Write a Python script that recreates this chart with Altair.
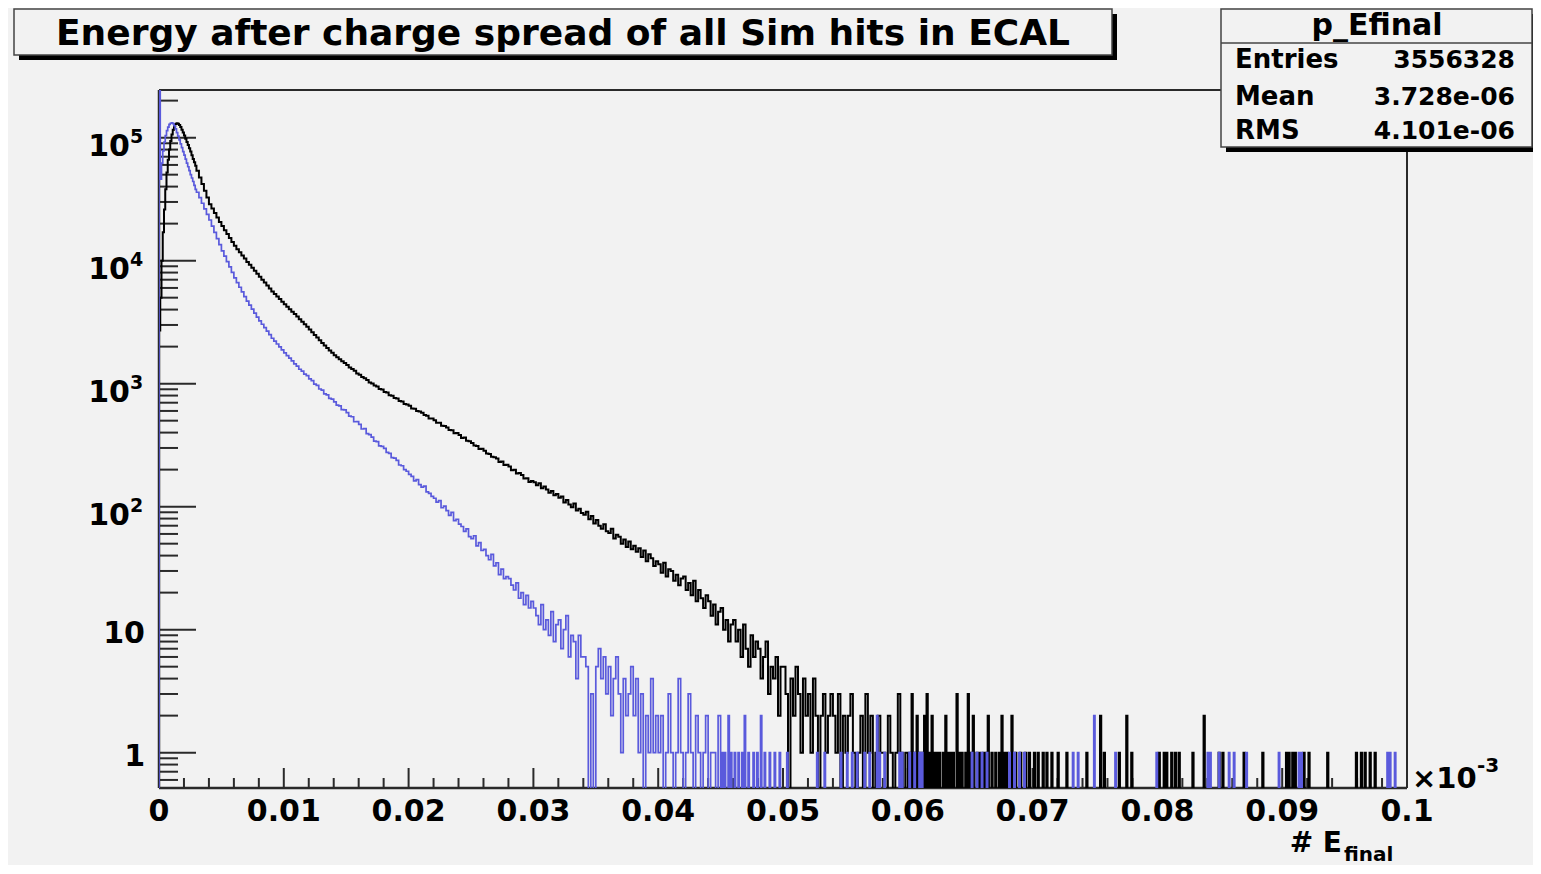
import altair as alt
import pandas as pd

# ---------------- text ----------------
TITLE = "Energy after charge spread of all Sim hits in ECAL"
STAT_NAME = "p_Efinal"
STAT_LABELS = ["Entries", "Mean", "RMS"]
STAT_VALUES = ["3556328", "3.728e-06", "4.101e-06"]
X_TITLE_MAIN = "# E"
X_TITLE_SUB = "final"
X_MULT_MAIN = "\u00d710"
X_MULT_EXP = "-3"

# ---------------- axes ----------------
X_DOMAIN = [0.0, 0.1]
Y_DOMAIN = [0.516, 2.44e5]
ZERO_LEVEL = 0.1  # empty bins fall to the bottom of the frame (clipped)

x_major = [0.0, 0.01, 0.02, 0.03, 0.04, 0.05, 0.06, 0.07, 0.08, 0.09, 0.1]
x_major_labels = ["0", "0.01", "0.02", "0.03", "0.04", "0.05", "0.06", "0.07", "0.08", "0.09", "0.1"]
x_minor = [round(k * 0.002, 4) for k in range(1, 50) if k % 5]

y_major = [1, 10, 100, 1000, 10000, 100000]
y_major_base = ["1", "10", "10", "10", "10", "10"]
y_major_exp = ["", "", "2", "3", "4", "5"]
y_minor = [m * 10.0 ** e for e in range(-1, 6) for m in range(2, 10)
           if Y_DOMAIN[0] <= m * 10.0 ** e <= Y_DOMAIN[1]]

# ---------------- black histogram ----------------
black_head = [2700, 5000, 10000, 17000, 26000, 38000, 52000, 66000, 80000, 94000,
              106000, 116000, 124000, 129000, 131000, 130000, 127000, 122000, 116000, 110000,
              104000, 98000, 92000, 87000, 82000, 77000, 72000, 67000, 63000, 59000]  # 0.0001 bins from 0
black_mid = [53700, 47400, 41900, 37000, 32600,
             28800, 26500, 24400, 22400, 20600,
             19100, 17700, 16500, 15300, 14200,
             13200, 12400, 11700, 11000, 10400,
             9770, 9240, 8740, 8270, 7820,
             7410, 7010, 6630, 6270, 5930,
             5620, 5360, 5110, 4870, 4640,
             4420, 4220, 4030, 3850, 3680,
             3510, 3340, 3190, 3040, 2900,
             2750, 2620, 2490, 2370, 2250,
             2140, 2040, 1950, 1860, 1780,
             1700, 1640, 1580, 1520, 1470,
             1420, 1350, 1315, 1275, 1210,
             1180, 1130, 1105, 1070, 1020,
             1005, 965, 948, 905, 895,
             855, 846, 806, 798, 765,
             757, 722, 716, 683, 676,
             660, 628, 625, 598, 594,
             580, 555, 548, 522, 520,
             505, 482, 480, 455, 452,
             441, 420, 418, 395, 397,
             383, 362, 365, 343, 340,
             330, 314, 311, 294, 296,
             285, 270, 268, 255, 252,
             246, 231, 233, 218, 219,
             212, 198, 200, 186, 188,
             181, 169, 170, 159, 162]  # 0.0002 bins from 0.003
black_noisy = [158, 149, 155, 141, 146, 138, 130, 134, 124, 127,
               118, 121, 108, 113, 104, 99, 106, 93, 96, 89,
               86, 91, 79, 84, 73, 78, 70, 66, 72, 63,
               61, 66, 55, 59, 57, 50, 54, 47, 52, 45,
               48, 43, 46, 39, 44, 36, 41, 38, 33, 36,
               34, 29, 35, 27, 31, 30, 25, 28, 23, 26,
               27, 21, 24, 19, 25, 17, 21, 18, 15, 19,
               17, 13, 16, 11, 14, 15, 10, 12, 8, 11,
               12, 8, 10, 6, 11, 7, 5, 9, 6, 8,
               7, 4, 6, 8, 3, 5, 4, 6, 2, 5,
               5, 3, 0, 4, 2, 5, 3, 1, 4, 2,
               3, 1, 4, 2, 0, 2, 3, 1, 2, 3,
               2, 1, 3, 0, 2, 1, 2, 3, 1, 0,
               1, 2, 0, 3, 1, 2, 0, 1, 2, 1,
               1, 0, 2, 1, 0, 1, 3, 1, 0, 1]  # 0.0002 bins from 0.030
black_tail_x = [0.0601, 0.0603, 0.0605, 0.0607, 0.0609, 0.0611, 0.0613, 0.0615, 0.0617, 0.0619,
                0.0621, 0.0623, 0.0625, 0.0628, 0.0630, 0.0632, 0.0634, 0.0636, 0.0639, 0.0641,
                0.0643, 0.0646, 0.0648, 0.0650, 0.0652, 0.0655, 0.0657, 0.0660, 0.0662, 0.0664,
                0.0667, 0.0670, 0.0673, 0.0675, 0.0677, 0.0679, 0.0683, 0.0686, 0.0690, 0.0694,
                0.0697, 0.0701, 0.0704, 0.0708, 0.0711, 0.0715, 0.0720, 0.0727, 0.0743, 0.0754,
                0.0757, 0.0769, 0.0775, 0.0779, 0.0801, 0.0805, 0.0807, 0.0811, 0.0814, 0.0817,
                0.0828, 0.0837, 0.0849, 0.0852, 0.0869, 0.0884, 0.0903, 0.0905, 0.0908, 0.0910,
                0.0917, 0.0921, 0.0936, 0.0959, 0.0963, 0.0966, 0.0970, 0.0974]
black_tail_n = [1, 3, 1, 2, 1, 1, 2, 3, 1, 2,
                1, 1, 1, 1, 2, 1, 1, 1, 3, 1,
                1, 1, 3, 1, 2, 1, 1, 1, 1, 2,
                1, 1, 1, 2, 1, 1, 2, 1, 1, 1,
                1, 1, 1, 1, 1, 1, 1, 1, 1, 2,
                1, 1, 2, 1, 1, 1, 1, 1, 1, 1,
                1, 2, 1, 1, 1, 1, 1, 1, 1, 1,
                1, 1, 1, 1, 1, 1, 1, 1]  # 0.0001 bins, 0.060-0.100

# ---------------- blue histogram ----------------
blue_head = [300000, 46000, 62000, 78000, 92000, 104000, 114000, 122000, 128000, 131000,
             132000, 130000, 125000, 118000, 110000, 103000, 96000, 89000, 83000, 77000,
             72000, 67000, 62000, 58000, 54000, 50000, 47000, 44000, 41000, 38000]  # 0.0001 bins from 0
blue_mid = [36000, 32500, 29300, 26400, 23800,
            21400, 19100, 17000, 15100, 13500,
            12000, 10900, 9830, 8890, 8040,
            7240, 6630, 6080, 5570, 5100,
            4680, 4350, 4040, 3750, 3480,
            3240, 3040, 2850, 2670, 2500,
            2340, 2220, 2100, 1990, 1880,
            1780, 1690, 1610, 1530, 1450,
            1390, 1310, 1265, 1195, 1160,
            1095, 1060, 990, 968, 905,
            885, 826, 812, 758, 748,
            712, 670, 660, 615, 612,
            582, 545, 538, 490, 492,
            466, 428, 431, 392, 385,
            368, 341, 338, 312, 309,
            298, 276, 271, 250, 248,
            238, 218, 215, 200, 194]  # 0.0002 bins from 0.003
blue_noisy = [183, 176, 162, 166, 151, 144, 147, 132, 128, 121,
              117, 109, 112, 98, 101, 93, 85, 90, 77, 79,
              72, 69, 63, 66, 57, 55, 58, 48, 51, 44,
              45, 40, 37, 41, 33, 35, 28, 31, 26, 27,
              26, 23, 21, 24, 18, 20, 16, 19, 15, 17,
              15, 13, 11, 16, 10, 12, 9, 14, 8, 11,
              12, 7, 10, 13, 6, 9, 8, 4, 9, 6,
              6, 5, 0, 3, 0, 5, 7, 4, 6, 3,
              5, 2, 4, 6, 3, 1, 4, 2, 3, 5,
              2, 4, 1, 3, 0, 2, 1, 4, 1, 2,
              1, 2, 0, 1, 3, 1, 0, 1, 4, 1,
              0, 1, 3, 1, 0, 2, 1, 0, 1, 2,
              0, 1, 1, 0, 2]  # 0.0002 bins from 0.020
blue_tail_x = [0.0451, 0.0453, 0.0456, 0.0458, 0.0461, 0.0464, 0.0467, 0.0469, 0.0472, 0.0476,
               0.0479, 0.0482, 0.0485, 0.0489, 0.0493, 0.0497, 0.0503, 0.0527, 0.0533, 0.0546,
               0.0551, 0.0555, 0.0559, 0.0565, 0.0569, 0.0575, 0.0577, 0.0581, 0.0593, 0.0595,
               0.0601, 0.0605, 0.0609, 0.0611, 0.0651, 0.0655, 0.0659, 0.0663, 0.0681, 0.0685,
               0.0689, 0.0693, 0.0732, 0.0736, 0.0749, 0.0766, 0.0799, 0.0840, 0.0842, 0.0849,
               0.0857, 0.0861, 0.0871, 0.0897, 0.0913, 0.0915, 0.0984, 0.0986, 0.0990]
blue_tail_n = [1, 1, 2, 1, 1, 1, 1, 2, 1, 1,
               1, 2, 1, 1, 1, 1, 1, 1, 1, 1,
               1, 1, 1, 1, 1, 2, 1, 1, 1, 1,
               1, 1, 1, 1, 1, 1, 1, 1, 1, 1,
               1, 1, 1, 1, 2, 1, 1, 1, 1, 1,
               1, 1, 1, 1, 1, 1, 1, 1, 1]  # 0.0001 bins, 0.045-0.100


def step_frame(pieces, tail_start, tail_x, tail_n):
    pts = [(0.0, ZERO_LEVEL)]
    for start, width, counts in pieces:
        for k, c in enumerate(counts):
            pts.append((start + k * width, c if c > 0 else ZERO_LEVEL))
    lookup = {int(round(x * 10000)): n for x, n in zip(tail_x, tail_n)}
    for k in range(int(round(tail_start * 10000)), 1000):
        n = lookup.get(k, 0)
        pts.append((k / 10000.0, n if n > 0 else ZERO_LEVEL))
    pts.append((X_DOMAIN[1], ZERO_LEVEL))
    return pd.DataFrame({"x": [p[0] for p in pts], "y": [p[1] for p in pts],
                         "i": list(range(len(pts)))})


black_df = step_frame([(0.0, 0.0001, black_head), (0.003, 0.0002, black_mid),
                       (0.030, 0.0002, black_noisy)], 0.060, black_tail_x, black_tail_n)
blue_df = step_frame([(0.0, 0.0001, blue_head), (0.003, 0.0002, blue_mid),
                      (0.020, 0.0002, blue_noisy)], 0.045, blue_tail_x, blue_tail_n)

# ---------------- layout ----------------
W, H = 1248, 698
FONT = "DejaVu Sans"
BG = "#f2f2f2"
AX = "#2a2a2a"

xs = alt.Scale(domain=X_DOMAIN, nice=False, zero=False)
ys = alt.Scale(type="log", domain=Y_DOMAIN, nice=False)
one = pd.DataFrame({"a": [0]})

def X(field):
    return alt.X(field, scale=xs, axis=None)

def Y(field):
    return alt.Y(field, scale=ys, axis=None)

layers = []

# frame
layers.append(alt.Chart(one).mark_rule(color=AX, strokeWidth=2).encode(
    x=alt.value(0), x2=alt.value(W), y=alt.value(0)))
layers.append(alt.Chart(one).mark_rule(color=AX, strokeWidth=2).encode(
    x=alt.value(W), y=alt.value(0), y2=alt.value(H)))
layers.append(alt.Chart(one).mark_rule(color=AX, strokeWidth=2.5).encode(
    x=alt.value(0), y=alt.value(0), y2=alt.value(H)))
layers.append(alt.Chart(one).mark_rule(color=AX, strokeWidth=2.5).encode(
    x=alt.value(0), x2=alt.value(W), y=alt.value(H)))

# inward ticks
layers.append(alt.Chart(pd.DataFrame({"v": x_major})).mark_rule(color=AX, strokeWidth=2).encode(
    x=X("v:Q"), y=alt.value(H), y2=alt.value(H - 20)))
layers.append(alt.Chart(pd.DataFrame({"v": x_minor})).mark_rule(color=AX, strokeWidth=2).encode(
    x=X("v:Q"), y=alt.value(H), y2=alt.value(H - 10)))
layers.append(alt.Chart(pd.DataFrame({"v": y_major})).mark_rule(color=AX, strokeWidth=2).encode(
    y=Y("v:Q"), x=alt.value(0), x2=alt.value(37)))
layers.append(alt.Chart(pd.DataFrame({"v": y_minor})).mark_rule(color=AX, strokeWidth=2).encode(
    y=Y("v:Q"), x=alt.value(0), x2=alt.value(19)))

# tick labels
layers.append(alt.Chart(pd.DataFrame({"v": x_major, "t": x_major_labels})).mark_text(
    font=FONT, fontWeight="bold", fontSize=30, align="center", baseline="alphabetic",
    color="black").encode(x=X("v:Q"), y=alt.value(H + 33), text="t:N"))

ylab = pd.DataFrame({"v": y_major, "b": y_major_base, "e": y_major_exp})
plain = ylab[ylab["e"] == ""]
powers = ylab[ylab["e"] != ""]
layers.append(alt.Chart(plain).mark_text(
    font=FONT, fontWeight="bold", fontSize=30, align="right", baseline="alphabetic",
    dy=13, color="black").encode(y=Y("v:Q"), x=alt.value(-14), text="b:N"))
layers.append(alt.Chart(powers).mark_text(
    font=FONT, fontWeight="bold", fontSize=30, align="right", baseline="alphabetic",
    dy=18, color="black").encode(y=Y("v:Q"), x=alt.value(-29), text="b:N"))
layers.append(alt.Chart(powers).mark_text(
    font=FONT, fontWeight="bold", fontSize=19, align="left", baseline="alphabetic",
    dy=5, color="black").encode(y=Y("v:Q"), x=alt.value(-29), text="e:N"))

# histograms
layers.append(alt.Chart(black_df).mark_line(
    interpolate="step-after", clip=True, color="#000000", strokeWidth=2).encode(
    x=X("x:Q"), y=Y("y:Q"), order=alt.Order("i:Q")))
layers.append(alt.Chart(blue_df).mark_line(
    interpolate="step-after", clip=True, color="#5a5adc", strokeWidth=1.7).encode(
    x=X("x:Q"), y=Y("y:Q"), order=alt.Order("i:Q")))

# x multiplier and title
layers.append(alt.Chart(one).mark_text(
    font=FONT, fontWeight="bold", fontSize=29, align="left", baseline="alphabetic",
    color="black").encode(x=alt.value(W + 5), y=alt.value(H), text=alt.value(X_MULT_MAIN)))
layers.append(alt.Chart(one).mark_text(
    font=FONT, fontWeight="bold", fontSize=20, align="left", baseline="alphabetic",
    color="black").encode(x=alt.value(W + 70), y=alt.value(H - 16), text=alt.value(X_MULT_EXP)))
layers.append(alt.Chart(one).mark_text(
    font=FONT, fontWeight="bold", fontSize=28, align="right", baseline="alphabetic",
    color="black").encode(x=alt.value(W - 65), y=alt.value(H + 64), text=alt.value(X_TITLE_MAIN)))
layers.append(alt.Chart(one).mark_text(
    font=FONT, fontWeight="bold", fontSize=20, align="left", baseline="alphabetic",
    color="black").encode(x=alt.value(W - 63), y=alt.value(H + 73), text=alt.value(X_TITLE_SUB)))

# title box
layers.append(alt.Chart(one).mark_rect(fill="black").encode(
    x=alt.value(-140), x2=alt.value(958), y=alt.value(-76), y2=alt.value(-30)))
layers.append(alt.Chart(one).mark_rect(fill=BG, stroke="#444", strokeWidth=1.5).encode(
    x=alt.value(-145), x2=alt.value(953), y=alt.value(-81), y2=alt.value(-35)))
layers.append(alt.Chart(one).mark_text(
    font=FONT, fontWeight="bold", fontSize=36, align="center", baseline="alphabetic",
    color="black").encode(x=alt.value(404), y=alt.value(-45), text=alt.value(TITLE)))

# stats box
layers.append(alt.Chart(one).mark_rect(fill="black").encode(
    x=alt.value(1067), x2=alt.value(1378), y=alt.value(-76), y2=alt.value(62)))
layers.append(alt.Chart(one).mark_rect(fill=BG, stroke="#444", strokeWidth=1.5).encode(
    x=alt.value(1062), x2=alt.value(1373), y=alt.value(-81), y2=alt.value(57)))
layers.append(alt.Chart(one).mark_rule(color="#444", strokeWidth=1.5).encode(
    x=alt.value(1062), x2=alt.value(1373), y=alt.value(-47)))
layers.append(alt.Chart(one).mark_text(
    font=FONT, fontWeight="bold", fontSize=30, align="center", baseline="alphabetic",
    color="black").encode(x=alt.value(1218), y=alt.value(-55), text=alt.value(STAT_NAME)))
for lab, val, yb in zip(STAT_LABELS, STAT_VALUES, [-22, 15, 49]):
    layers.append(alt.Chart(one).mark_text(
        font=FONT, fontWeight="bold", fontSize=26, align="left", baseline="alphabetic",
        color="black").encode(x=alt.value(1076), y=alt.value(yb), text=alt.value(lab)))
    layers.append(alt.Chart(one).mark_text(
        font=FONT, fontWeight="bold", fontSize=25, align="right", baseline="alphabetic",
        color="black").encode(x=alt.value(1356), y=alt.value(yb), text=alt.value(val)))

chart = alt.layer(*layers).properties(
    width=W, height=H,
    padding={"left": 151, "top": 82, "right": 126, "bottom": 77},
    autosize=alt.AutoSizeParams(type="none"),
    background=BG,
).configure_view(stroke="transparent")

chart.save("out.html", embed_options={"renderer": "svg", "actions": False})
